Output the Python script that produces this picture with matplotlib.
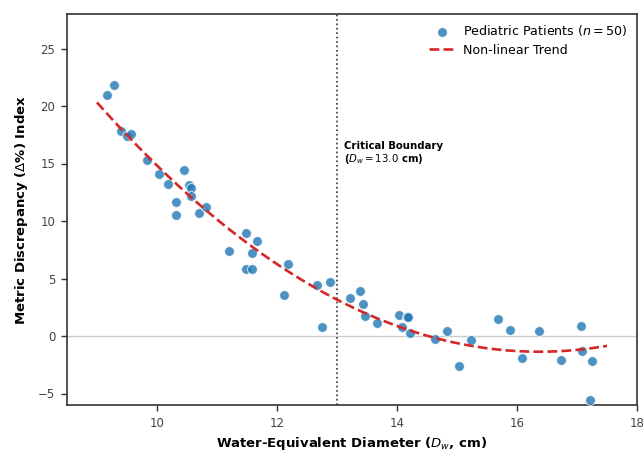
import numpy as np
import matplotlib
matplotlib.use('Agg')
import matplotlib.pyplot as plt

# Data: water-equivalent diameter (cm) vs metric discrepancy (%)
dw_cm = [9.17, 9.29, 9.40, 9.50, 9.57, 9.83, 10.04, 10.18, 10.45, 10.32,
         10.32, 10.53, 10.56, 10.57, 10.70, 10.81, 11.20, 11.48, 11.48, 11.59,
         11.59, 11.66, 12.11, 12.18, 12.67, 12.75, 12.88, 13.21, 13.38, 13.43,
         13.46, 13.66, 14.04, 14.09, 14.16, 14.19, 14.21, 14.64, 14.83, 15.03,
         15.24, 15.69, 15.88, 16.08, 16.37, 16.74, 17.07, 17.09, 17.25, 17.22]
delta_pct = [21.0, 21.8, 17.8, 17.35, 17.6, 15.3, 14.1, 13.2, 14.4, 11.65,
             10.5, 13.1, 12.9, 12.2, 10.7, 11.25, 7.4, 9.0, 5.85, 5.85,
             7.25, 8.3, 3.6, 6.3, 4.4, 0.8, 4.7, 3.3, 3.95, 2.8,
             1.75, 1.12, 1.83, 0.75, 1.68, 1.62, 0.3, -0.3, 0.4, -2.62,
             -0.33, 1.47, 0.48, -1.93, 0.46, -2.12, 0.83, -1.27, -2.18, -5.55]

boundary_dw = 13.0
trend_range = [9.0, 17.5]

x = np.array(dw_cm)
y = np.array(delta_pct)

# quadratic trend fitted to the points
coef = np.polyfit(x, y, 2)
x_fit = np.linspace(trend_range[0], trend_range[1], 200)
y_fit = np.polyval(coef, x_fit)

fig = plt.figure(figsize=(6.44, 4.53), dpi=100)
ax = fig.add_axes([67 / 644, 1 - 405 / 453, 570 / 644, 391 / 453])

ax.axhline(0, color='#cccccc', lw=1.0, zorder=0)
ax.axvline(boundary_dw, color='#333333', ls=':', lw=1.2, zorder=1)

ax.scatter(x, y, s=50, color='#1f77b4', alpha=0.8, edgecolors='white',
           linewidths=0.7, zorder=3, label='Pediatric Patients ($n = 50$)')
ax.plot(x_fit, y_fit, color='#d62728', ls='--', lw=1.9, zorder=4,
        label='Non-linear Trend')

ax.text(boundary_dw + 0.11, 16.95,
        'Critical Boundary\n($D_w = %.1f$ cm)' % boundary_dw,
        fontsize=7.3, fontweight='bold', va='top', ha='left', color='black',
        linespacing=1.1)

ax.set_xlim(8.5, 18)
ax.set_ylim(-6, 28)
ax.set_xticks([10, 12, 14, 16, 18])
ax.set_yticks([-5, 0, 5, 10, 15, 20, 25])

ax.set_xlabel('Water-Equivalent Diameter ($D_w$, cm)', fontsize=9.5,
              fontweight='bold', labelpad=3.5)
ax.set_ylabel('Metric Discrepancy ($\\Delta$%) Index', fontsize=9.5,
              fontweight='bold', labelpad=6)

for side in ['left', 'right', 'top', 'bottom']:
    ax.spines[side].set_color('#333333')
    ax.spines[side].set_linewidth(1.2)
ax.tick_params(axis='both', direction='out', length=4.5, width=1.0,
               color='#333333', labelcolor='#444444', labelsize=8.5, pad=4)

ax.legend(loc='upper right', frameon=False, fontsize=9.1, handlelength=2.0,
          handletextpad=0.7, borderaxespad=0.3, labelspacing=0.45)

fig.savefig('out.png', dpi=100)
